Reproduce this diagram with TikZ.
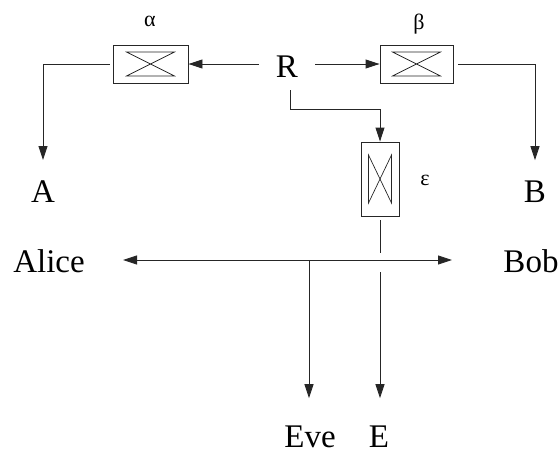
\documentclass[tikz,border=0pt]{standalone}
\usepackage{fontspec}
\setmainfont{Liberation Serif}
\usetikzlibrary{arrows.meta}
\begin{document}
\begin{tikzpicture}[x=1pt,y=-1pt,
  lbl/.style={font=\fontsize{33}{40}\selectfont, inner sep=0pt, anchor=base},
  greek/.style={font=\fontsize{22}{26}\selectfont, inner sep=0pt, anchor=base},
  conn/.style={line width=0.9pt, draw=black!85},
  tip/.tip={Triangle[length=14pt,width=9pt]},
  arr/.style={conn, -tip},
  hbox/.style={draw=black!85, line width=0.9pt, minimum width=75pt, minimum height=38pt, inner sep=0pt,
    path picture={\draw[line width=0.7pt] ([xshift=-24pt,yshift=12pt]path picture bounding box.center)
      -- ([xshift=24pt,yshift=12pt]path picture bounding box.center)
      -- ([xshift=-24pt,yshift=-12pt]path picture bounding box.center)
      -- ([xshift=24pt,yshift=-12pt]path picture bounding box.center) -- cycle;}},
  vbox/.style={draw=black!85, line width=0.9pt, minimum width=38pt, minimum height=74pt, inner sep=0pt,
    path picture={\draw[line width=0.7pt] ([xshift=-11.5pt,yshift=24pt]path picture bounding box.center)
      -- ([xshift=-11.5pt,yshift=-24pt]path picture bounding box.center)
      -- ([xshift=11.5pt,yshift=24pt]path picture bounding box.center)
      -- ([xshift=11.5pt,yshift=-24pt]path picture bounding box.center) -- cycle;}},
]
\useasboundingbox (0,0) rectangle (560,455);

% boxes
\node[hbox] (alpha) at (150.5,64) {};
\node[hbox, minimum width=73pt] (beta) at (416.5,64) {};
\node[vbox] (eps) at (380,179) {};

% labels
\node[greek] (la) at (150,26) {α};
\node[greek] (lb) at (419,29) {β};
\node[greek] (le) at (425,185) {ε};

\node[lbl, inner xsep=17pt, inner ysep=13pt] (R) at (287,77) {R};
\node[lbl] (A) at (43,202) {A};
\node[lbl] (B) at (535,202) {B};
\node[lbl] (Alice) at (49,272) {Alice};
\node[lbl] (Bob) at (531,272) {Bob};
\node[lbl] (Eve) at (310,447) {Eve};
\node[lbl] (E) at (379,447) {E};

% coordinates
\coordinate (hl) at (123,260);
\coordinate (hr) at (452,260);
\coordinate (j) at (309,260);
\coordinate (e1) at (380,253);
\coordinate (e2) at (380,272);

% connectors
\draw[arr] (R.west |- alpha.east) -- (alpha.east);
\draw[arr] (R.east |- beta.west) -- (beta.west);
\draw[arr] ([xshift=-3pt]alpha.west) -| ([yshift=20pt]A.north);
\draw[arr] ([xshift=5pt]beta.east) -| ([yshift=20pt]B.north);
\draw[arr] ([xshift=3pt]R.south) -- ++(0,19) -| (eps.north);
\draw[conn] ([yshift=-4pt]eps.south) -- (e1);
\draw[arr] (e2) -- ([yshift=27pt]E.north -| e2);
\draw[conn, tip-tip] (hl) -- (hr);
\draw[arr] (j) -- ([yshift=27pt]Eve.north -| j);
\end{tikzpicture}
\end{document}
